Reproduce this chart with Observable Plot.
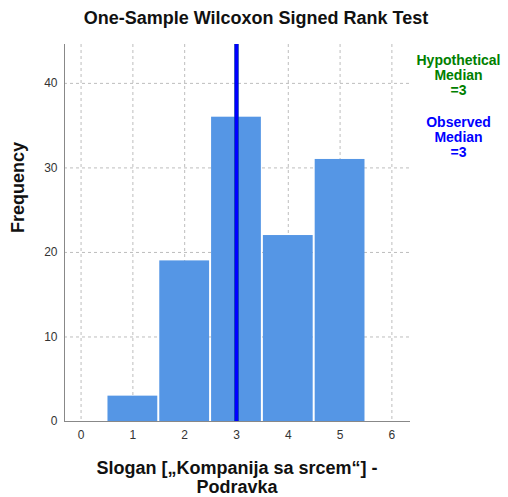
<!DOCTYPE html>
<html>
<head>
<meta charset="utf-8">
<script src="https://cdn.jsdelivr.net/npm/d3@7"></script>
<script src="https://cdn.jsdelivr.net/npm/@observablehq/plot@0.6"></script>
<style>
body { margin: 0; background: #fff; }
</style>
</head>
<body>
<div id="chart"></div>
<script>
const values = [1, 2, 3, 4, 5];
const counts = [3, 19, 36, 22, 31];
const xTicks = [0, 1, 2, 3, 4, 5, 6];
const yTicks = [0, 10, 20, 30, 40];
const hypotheticalMedian = 3;
const observedMedian = 3;
const title = "One-Sample Wilcoxon Signed Rank Test";
const xLabel = "Slogan [„Kompanija sa srcem“] -\nPodravka";
const yLabel = "Frequency";
const hypText = `Hypothetical\nMedian\n=${hypotheticalMedian}`;
const obsText = `Observed\nMedian\n=${observedMedian}`;

const bars = values.map((v, i) => ({x1: v - 0.5, x2: v + 0.5, y: counts[i]}));

const chart = Plot.plot({
  width: 508,
  height: 497,
  marginLeft: 64,
  marginRight: 99,
  marginTop: 44,
  marginBottom: 76,
  style: {fontFamily: "'Liberation Sans', Arial, sans-serif", fontSize: "12px", color: "#333", background: "#fff"},
  x: {domain: [-0.32, 6.34]},
  y: {domain: [0, 44.6]},
  marks: [
    Plot.ruleY(yTicks.slice(1), {stroke: "#bdbdbd", strokeDasharray: "3,3"}),
    Plot.ruleX(xTicks, {stroke: "#bdbdbd", strokeDasharray: "3,3"}),
    Plot.rectY(bars, {x1: "x1", x2: "x2", y: "y", fill: "#5596e5", insetLeft: 1, insetRight: 1}),
    Plot.ruleX([hypotheticalMedian], {stroke: "#008000", strokeWidth: 4}),
    Plot.ruleX([observedMedian], {stroke: "#0000ff", strokeWidth: 4}),
    Plot.axisX({ticks: xTicks, tickFormat: d3.format("d"), tickSize: 0, tickPadding: 9, label: null, fontSize: 12}),
    Plot.axisY({ticks: yTicks, tickFormat: d3.format("d"), tickSize: 0, tickPadding: 7, label: null, fontSize: 12}),
    Plot.frame({anchor: "left", stroke: "#888"}),
    Plot.frame({anchor: "bottom", stroke: "#888"}),
    Plot.text([title], {frameAnchor: "top", lineAnchor: "middle", dx: 19, dy: -26, fontWeight: "bold", fontSize: 18, fill: "#111"}),
    Plot.text([xLabel], {frameAnchor: "bottom", lineAnchor: "middle", dy: 56, fontWeight: "bold", fontSize: 18, lineHeight: 1.06, fill: "#111"}),
    Plot.text([yLabel], {frameAnchor: "left", lineAnchor: "middle", dx: -46, rotate: -90, fontWeight: "bold", fontSize: 18, fill: "#111"}),
    Plot.text([hypText], {frameAnchor: "top-right", textAnchor: "middle", lineAnchor: "middle", dx: 49, dy: 31, fontWeight: "bold", fontSize: 14, lineHeight: 1.07, fill: "#008000"}),
    Plot.text([obsText], {frameAnchor: "top-right", textAnchor: "middle", lineAnchor: "middle", dx: 49, dy: 93, fontWeight: "bold", fontSize: 14, lineHeight: 1.07, fill: "#0000ff"})
  ]
});
document.getElementById("chart").append(chart);
</script>
</body>
</html>
